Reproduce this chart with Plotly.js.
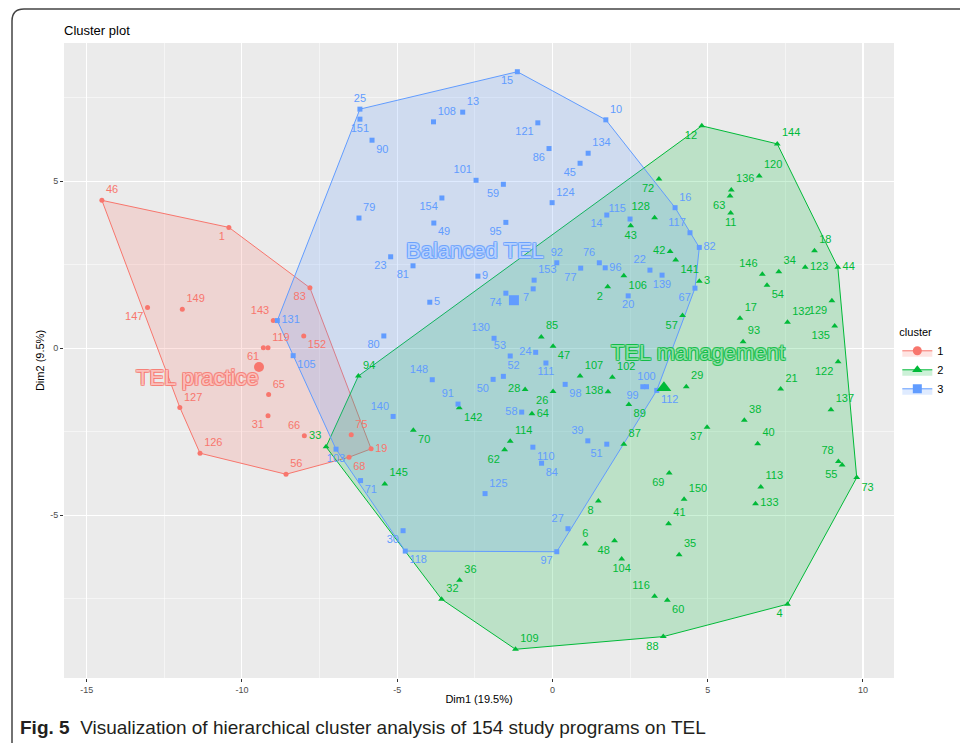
<!DOCTYPE html>
<html><head><meta charset="utf-8">
<script src="https://cdn.plot.ly/plotly-3.0.1.min.js"></script>
<style>html,body{margin:0;padding:0;background:#fff}#chart{width:960px;height:743px}</style>
</head><body><div id="chart"></div>
<script>
// ---------- DATA ----------
// Cluster 1 (TEL practice)
const c1Ids = [46,1,83,149,147,143,119,61,152,65,127,31,66,126,56,75,19,68];
const c1X = [-14.51,-10.42,-7.81,-11.92,-13.04,-8.99,-9.16,-9.31,-8.01,-9.14,-12.00,-9.16,-7.99,-11.35,-8.58,-6.48,-5.84,-6.55];
const c1Y = [4.43,3.62,1.81,1.17,1.22,0.83,0.02,0.02,0.37,-1.38,-1.77,-2.02,-2.62,-3.14,-3.77,-2.59,-3.01,-3.26];

// Cluster 2 (TEL management)
const c2Ids = [12,144,120,136,63,11,72,128,43,42,18,2,85,47,94,107,102,28,26,138,142,64,70,114,62,33,146,34,123,44,54,129,135,132,17,93,122,21,137,29,89,57,3,141,106,87,37,38,40,78,55,73,113,133,69,150,41,35,104,48,116,60,4,88,145,8,6,36,32,109];
const c2X = [4.81,7.24,6.66,5.76,5.72,5.74,3.43,3.29,2.52,3.79,8.44,1.78,-0.36,0.02,-6.25,0.89,1.93,-0.88,0.02,1.79,-3.00,-0.66,-4.48,-1.36,-1.54,-7.29,6.76,7.29,8.14,9.19,6.91,9.00,9.09,7.57,6.04,6.14,9.20,7.35,8.97,4.31,2.46,4.19,4.73,3.97,2.30,2.30,4.98,6.18,6.61,9.21,9.33,9.80,6.71,6.54,3.76,4.24,3.74,4.08,2.23,2.00,3.29,3.70,7.57,3.57,-5.40,1.48,1.06,-2.99,-3.57,-1.19];
const c2Y = [6.66,6.12,5.16,4.74,4.56,4.05,5.07,3.91,3.67,2.90,2.92,1.84,0.34,0.06,-0.83,-0.83,-0.87,-1.23,-1.29,-1.30,-1.78,-1.96,-2.45,-2.78,-3.04,-2.95,2.22,2.29,2.43,2.43,1.89,1.42,0.67,0.78,0.90,0.20,-0.40,-1.22,-1.84,-1.15,-1.68,0.98,2.01,2.64,2.17,-2.87,-2.36,-2.15,-2.86,-3.39,-3.49,-3.87,-4.15,-4.65,-3.73,-4.52,-5.25,-6.18,-6.31,-5.76,-7.42,-7.54,-7.66,-8.63,-4.06,-4.57,-5.86,-6.94,-7.51,-9.01];

// Cluster 3 (Balanced TEL)
const c3Ids = [25,151,90,108,13,15,10,121,86,134,45,101,59,124,154,79,49,95,14,115,16,117,82,23,81,9,5,92,76,96,77,153,7,74,80,130,53,24,111,148,52,50,98,91,140,58,39,51,110,84,103,131,105,22,139,20,67,100,99,112,71,125,27,30,118,97];
const c3X = [-6.20,-6.20,-5.81,-3.83,-2.89,-1.13,1.72,-0.47,-0.11,1.15,0.89,-2.46,-1.58,-0.01,-3.56,-6.23,-3.82,-1.50,1.75,2.50,3.95,4.43,4.73,-5.21,-4.49,-2.40,-3.95,0.14,1.51,1.70,0.91,-0.59,-0.62,-1.50,-5.43,-1.88,-1.36,-0.54,-0.21,-3.87,-1.58,-1.91,0.41,-3.04,-5.13,-0.99,1.14,1.75,-0.63,-0.35,-6.97,-8.86,-8.35,3.14,3.53,2.44,4.59,3.03,2.91,3.36,-6.18,-2.17,0.50,-4.81,-4.74,0.14];
const c3Y = [7.16,6.86,6.23,6.78,7.07,8.28,6.84,6.75,5.98,5.84,5.54,5.03,4.91,4.36,4.50,3.90,3.75,3.77,3.99,3.87,4.21,3.46,3.02,2.74,2.47,2.16,1.38,2.56,2.56,2.41,2.40,2.04,1.78,1.65,0.37,0.30,-0.23,-0.12,-0.44,-0.94,-0.84,-0.93,-1.08,-1.67,-2.04,-1.91,-2.77,-2.87,-2.96,-3.44,-3.02,0.83,-0.22,2.34,2.19,1.57,1.80,-1.15,-1.15,-1.26,-3.96,-4.35,-5.40,-5.46,-6.07,-6.09];

// Cluster centres (order: 1, 2, 3)
const centerX = [-9.45, 3.59, -1.24];
const centerY = [-0.56, -1.18, 1.44];

const clusterNames = ['1','2','3'];
const clusterTitles = ['TEL practice','TEL management','Balanced TEL'];
const xTicks = [-15,-10,-5,0,5,10];
const yTicks = [-5,0,5];

// ---------- STYLE ----------
const colors = ['#F8766D','#00BA38','#619CFF'];
const fills = ['rgba(248,118,109,0.2)','rgba(0,186,56,0.2)','rgba(97,156,255,0.2)'];
const symbols = ['circle','triangle-up','square'];
const msize = [5,6,5];
const csize = [10,13,10];
const P = {TR:'top right',TL:'top left',BR:'bottom right',BL:'bottom left',MR:'middle right',ML:'middle left',TC:'top center',BC:'bottom center'};
const labelPos = {
 46:'TR',1:'BL',83:'BL',149:'TR',147:'BL',143:'TL',119:'TR',61:'BL',152:'BR',65:'TR',127:'TR',31:'BL',66:'TL',126:'TR',56:'TR',75:'TR',19:'MR',68:'BR',
 25:'TC',151:'BC',90:'BR',108:'TR',13:'TR',15:'BL',10:'TR',121:'BL',86:'BL',134:'TR',45:'BL',101:'TL',59:'BL',124:'TR',154:'BL',79:'TR',49:'BR',95:'BL',14:'BL',115:'TL',16:'TR',117:'TL',82:'MR',23:'BL',81:'BL',9:'MR',5:'MR',92:'TC',76:'TL',96:'MR',77:'BL',153:'TR',7:'BL',74:'BL',80:'BL',130:'TL',53:'TL',24:'ML',111:'BC',148:'TL',52:'TR',50:'BL',98:'BR',91:'TL',140:'TL',58:'ML',39:'TL',51:'BL',110:'BR',84:'BR',103:'BC',131:'MR',105:'BR',22:'TL',139:'BC',20:'BC',67:'BL',100:'TC',99:'BL',112:'BR',71:'BR',125:'TR',27:'TL',30:'BL',118:'BR',97:'BL',
 12:'BL',144:'TR',120:'TR',136:'TR',63:'BL',11:'BC',72:'BL',128:'TL',43:'BC',42:'ML',18:'TR',2:'BL',85:'TR',47:'BR',94:'TR',107:'TR',102:'TR',28:'ML',26:'BL',138:'ML',142:'BR',64:'MR',70:'BR',114:'TR',62:'BL',33:'TL',146:'TL',34:'TR',123:'MR',44:'MR',54:'BR',129:'BL',135:'BL',132:'TR',17:'TR',93:'TR',122:'BL',21:'TR',137:'TR',29:'TR',89:'BR',57:'BL',3:'MR',141:'BR',106:'BR',87:'TR',37:'BL',38:'TR',40:'TR',78:'TL',55:'BL',73:'BR',113:'TR',133:'MR',69:'BL',150:'TR',41:'TR',35:'TR',104:'BC',48:'BL',116:'TL',60:'BR',4:'BL',88:'BL',145:'TR',8:'BL',6:'TC',36:'TR',32:'TR',109:'TR'
};
const labelFont = 'Liberation Sans, Arial, sans-serif';

function hull(xs, ys){
  const pts = xs.map((x,i)=>[x,ys[i]]).sort((a,b)=>a[0]-b[0]||a[1]-b[1]);
  const cross=(o,a,b)=>(a[0]-o[0])*(b[1]-o[1])-(a[1]-o[1])*(b[0]-o[0]);
  const lower=[],upper=[];
  for(const p of pts){while(lower.length>=2&&cross(lower[lower.length-2],lower[lower.length-1],p)<=0)lower.pop();lower.push(p);}
  for(let i=pts.length-1;i>=0;i--){const p=pts[i];while(upper.length>=2&&cross(upper[upper.length-2],upper[upper.length-1],p)<=0)upper.pop();upper.push(p);}
  const h=lower.slice(0,-1).concat(upper.slice(0,-1)); h.push(h[0]);
  return {x:h.map(p=>p[0]), y:h.map(p=>p[1])};
}

const clusters = [[c1Ids,c1X,c1Y],[c2Ids,c2X,c2Y],[c3Ids,c3X,c3Y]];
const traces = [];
clusters.forEach((c,k)=>{
  const h = hull(c[1],c[2]);
  traces.push({type:'scatter',mode:'lines',x:h.x,y:h.y,fill:'toself',fillcolor:fills[k],
    line:{color:colors[k],width:1},hoverinfo:'skip',showlegend:false});
});
clusters.forEach((c,k)=>{
  traces.push({type:'scatter',mode:'markers+text',x:c[1],y:c[2],text:c[0].map(String),
    textposition:c[0].map(id=>P[labelPos[id]||'TR']),
    textfont:{family:labelFont,size:11,color:colors[k]},
    marker:{symbol:symbols[k],size:msize[k],color:colors[k]},
    cliponaxis:false,showlegend:false});
});
clusters.forEach((c,k)=>{
  traces.push({type:'scatter',mode:'markers',x:[centerX[k]],y:[centerY[k]],
    marker:{symbol:symbols[k],size:csize[k],color:colors[k]},showlegend:false,hoverinfo:'skip'});
});
clusters.forEach((c,k)=>{
  traces.push({type:'scatter',mode:'lines+markers',x:[null],y:[null],name:clusterNames[k],
    fill:'toself',fillcolor:fills[k],line:{color:colors[k],width:1},
    marker:{symbol:symbols[k],size:9,color:colors[k]},showlegend:true});
});

// paper coordinate helpers (plot area 64..894 x 43..678 px)
const PX=(px)=>(px-64)/830, PY=(py)=>(678-py)/635;
const r=12;
const frame = `M ${PX(12)},${PY(760)} L ${PX(12)},${PY(9+r)} Q ${PX(12)},${PY(9)} ${PX(12+r)},${PY(9)} L ${PX(975)},${PY(9)}`;

const annXY = [[-11.42,-0.86],[4.69,-0.14],[-2.50,2.94]];
const annotations = clusterTitles.map((t,k)=>({
  x:annXY[k][0],y:annXY[k][1],xref:'x',yref:'y',text:t,showarrow:false,
  font:{family:labelFont,size:22,color:'rgba(255,255,255,0.55)',
    shadow:`1px 0 0 ${colors[k]}, -1px 0 0 ${colors[k]}, 0 1px 0 ${colors[k]}, 0 -1px 0 ${colors[k]}, 1px 1px 0 ${colors[k]}, -1px -1px 0 ${colors[k]}, 1px -1px 0 ${colors[k]}, -1px 1px 0 ${colors[k]}`}
}));
annotations.push({xref:'paper',yref:'paper',x:PX(18),y:PY(727),xanchor:'left',yanchor:'middle',showarrow:false,
  text:'<b>Fig. 5</b>  Visualization of hierarchical cluster analysis of 154 study programs on TEL',
  font:{family:'Liberation Sans, Arial',size:19,color:'#231f20'}});

const layout = {
  width:960,height:743,
  margin:{l:64,r:66,t:43,b:65,pad:0,autoexpand:false},
  paper_bgcolor:'#ffffff',plot_bgcolor:'#EBEBEB',
  font:{family:'Liberation Sans, Arial, sans-serif',color:'#000'},
  title:{text:'Cluster plot',x:PX(64),xref:'paper',xanchor:'left',y:1-30/743,yanchor:'middle',
    font:{size:13,color:'#000'}},
  xaxis:{range:[-15.73,11.0],tickvals:xTicks,ticktext:xTicks.map(String),showgrid:true,gridcolor:'#ffffff',gridwidth:1.1,
    zeroline:false,ticks:'outside',ticklen:3,tickcolor:'#333',tickfont:{size:9,color:'#4D4D4D'},
    minor:{tickvals:[-12.5,-7.5,-2.5,2.5,7.5],showgrid:true,gridcolor:'#ffffff',gridwidth:0.5,ticks:''},
    title:{text:'Dim1 (19.5%)',font:{size:11,color:'#000'},standoff:1},showline:false,fixedrange:true,automargin:false},
  yaxis:{range:[-9.87,9.14],tickvals:yTicks,ticktext:yTicks.map(String),showgrid:true,gridcolor:'#ffffff',gridwidth:1.1,
    zeroline:false,ticks:'outside',ticklen:3,tickcolor:'#333',tickfont:{size:9,color:'#4D4D4D'},
    minor:{tickvals:[-7.5,-2.5,2.5,7.5],showgrid:true,gridcolor:'#ffffff',gridwidth:0.5,ticks:''},
    title:{text:'Dim2 (9.5%)',font:{size:11,color:'#000'},standoff:3},showline:false,fixedrange:true,automargin:false},
  legend:{x:1.004,xanchor:'left',y:PY(322),yanchor:'top',bgcolor:'rgba(0,0,0,0)',
    title:{text:'cluster',font:{size:11,color:'#000'}},font:{size:11,color:'#000'},itemwidth:30,tracegroupgap:2},
  shapes:[{type:'path',xref:'paper',yref:'paper',path:frame,line:{color:'#444',width:1.5},layer:'above'}],
  annotations:annotations,
  hovermode:false
};
Plotly.newPlot('chart',traces,layout,{displayModeBar:false,staticPlot:true});
</script></body></html>
